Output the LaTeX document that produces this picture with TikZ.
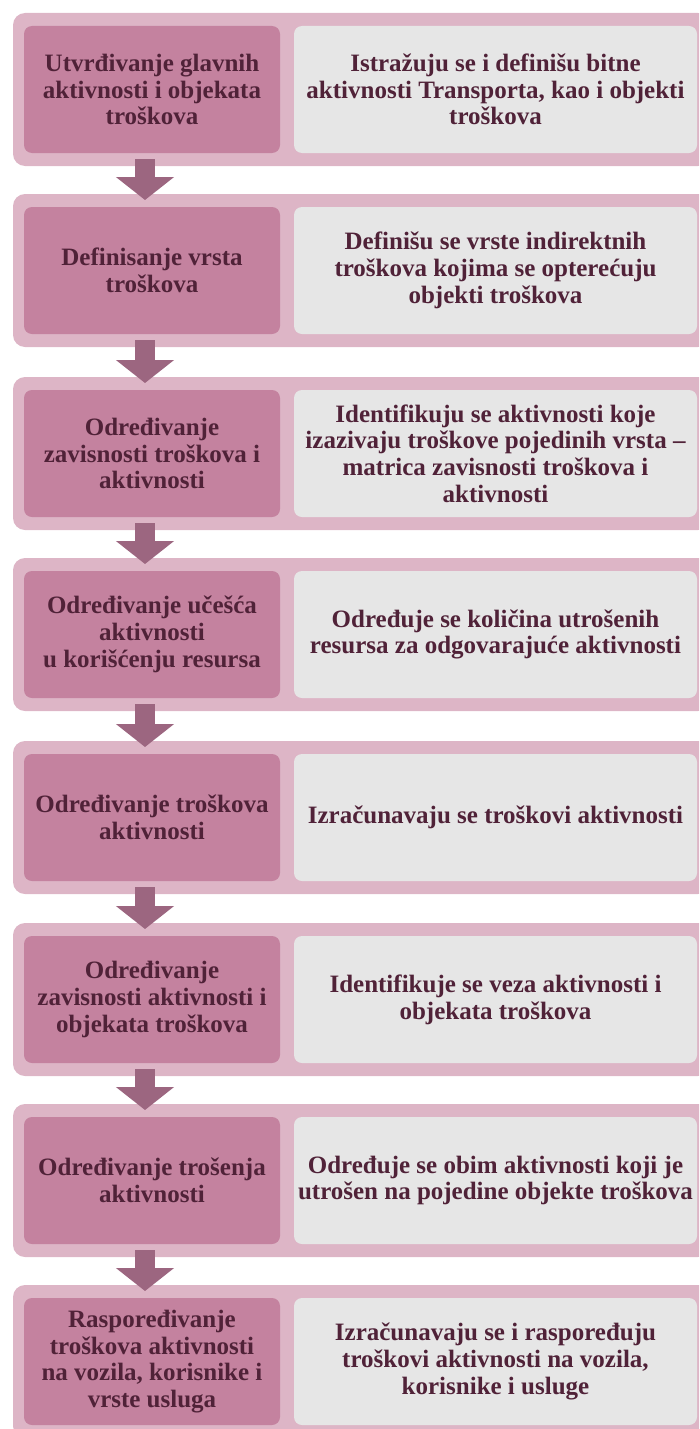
\documentclass[tikz,border=0pt]{standalone}
\usepackage{fontspec}
\setmainfont{Liberation Serif}
\usetikzlibrary{arrows.meta}
\begin{document}
\begin{tikzpicture}[x=1pt,y=-1pt,
  every node/.style={inner sep=0pt, outer sep=0pt, align=center, text={rgb,255:red,80;green,34;blue,56}, font=\fontsize{25}{26.7}\selectfont\bfseries},
  band/.style={fill={rgb,255:red,221;green,181;blue,198}, rounded corners=12pt, minimum width=697pt, minimum height=153pt},
  stepbox/.style={fill={rgb,255:red,196;green,130;blue,159}, rounded corners=8pt, minimum width=256pt, minimum height=127pt},
  infobox/.style={fill={rgb,255:red,230;green,230;blue,230}, rounded corners=8pt, minimum width=403pt, minimum height=127pt},
  flow/.style={draw={rgb,255:red,156;green,102;blue,128}, line width=20pt, -{Triangle[width=57pt,length=23pt]}}]
\useasboundingbox (0,0) rectangle (699,1429);
\clip (0,0) rectangle (699,1429);
% rows
\node[band] (b1) at (361.5,89.5) {};
\node[stepbox] (s1) at (152,89.5) {Utvrđivanje glavnih\\aktivnosti i objekata\\troškova};
\node[infobox] (i1) at (495.5,89.5) {Istražuju se i definišu bitne\\aktivnosti Transporta, kao i objekti\\troškova};
\node[band] (b2) at (361.5,270.5) {};
\node[stepbox] (s2) at (152,270.5) {Definisanje vrsta\\troškova};
\node[infobox] (i2) at (495.5,270.5) {Definišu se vrste indirektnih\\troškova kojima se opterećuju\\objekti troškova};
\node[band] (b3) at (361.5,453.5) {};
\node[stepbox] (s3) at (152,453.5) {Određivanje\\zavisnosti troškova i\\aktivnosti};
\node[infobox] (i3) at (495.5,453.5) {Identifikuju se aktivnosti koje\\izazivaju troškove pojedinih vrsta –\\matrica zavisnosti troškova i\\aktivnosti};
\node[band] (b4) at (361.5,634.5) {};
\node[stepbox] (s4) at (152,634.5) {Određivanje učešća\\aktivnosti\\u korišćenju resursa};
\node[infobox] (i4) at (495.5,634.5) {Određuje se količina utrošenih\\resursa za odgovarajuće aktivnosti};
\node[band] (b5) at (361.5,817.5) {};
\node[stepbox] (s5) at (152,817.5) {Određivanje troškova\\aktivnosti};
\node[infobox] (i5) at (495.5,817.5) {Izračunavaju se troškovi aktivnosti};
\node[band] (b6) at (361.5,999.5) {};
\node[stepbox] (s6) at (152,999.5) {Određivanje\\zavisnosti aktivnosti i\\objekata troškova};
\node[infobox] (i6) at (495.5,999.5) {Identifikuje se veza aktivnosti i\\objekata troškova};
\node[band] (b7) at (361.5,1180.5) {};
\node[stepbox] (s7) at (152,1180.5) {Određivanje trošenja\\aktivnosti};
\node[infobox] (i7) at (495.5,1180.5) {Određuje se obim aktivnosti koji je\\utrošen na pojedine objekte troškova};
\node[band] (b8) at (361.5,1361.5) {};
\node[stepbox] (s8) at (152,1361.5) {Raspoređivanje\\troškova aktivnosti\\na vozila, korisnike i\\vrste usluga};
\node[infobox] (i8) at (495.5,1361.5) {Izračunavaju se i raspoređuju\\troškovi aktivnosti na vozila,\\korisnike i usluge};
% arrows
\draw[flow] ([shift={(-7,6)}]s1.south) -- ([shift={(-7,-7)}]s2.north);
\draw[flow] ([shift={(-7,6)}]s2.south) -- ([shift={(-7,-7)}]s3.north);
\draw[flow] ([shift={(-7,6)}]s3.south) -- ([shift={(-7,-7)}]s4.north);
\draw[flow] ([shift={(-7,6)}]s4.south) -- ([shift={(-7,-7)}]s5.north);
\draw[flow] ([shift={(-7,6)}]s5.south) -- ([shift={(-7,-7)}]s6.north);
\draw[flow] ([shift={(-7,6)}]s6.south) -- ([shift={(-7,-7)}]s7.north);
\draw[flow] ([shift={(-7,6)}]s7.south) -- ([shift={(-7,-7)}]s8.north);
\end{tikzpicture}
\end{document}
